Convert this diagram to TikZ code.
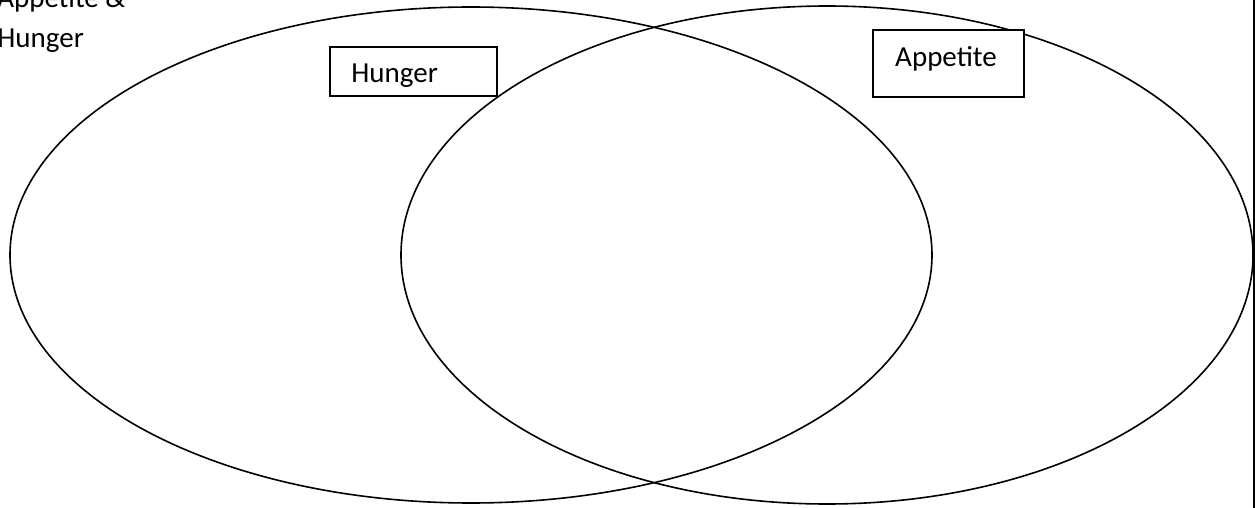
\documentclass[tikz,border=0pt]{standalone}
\usepackage{fontspec}
\setmainfont{Carlito}
\usepackage{tikz}
\usetikzlibrary{positioning}
\tikzset{
  venn/.style={draw=black, line width=0.8pt},
  labelbox/.style={rectangle, draw=black, line width=0.8pt, fill=white,
                   inner sep=0pt},
  lbl/.style={font=\fontsize{14.5}{20}\selectfont, inner sep=0pt},
}

\begin{document}
\begin{tikzpicture}[x=0.5pt, y=-0.5pt]
  \useasboundingbox (0,0) rectangle (1255,508);
  % the two sets
  \draw[venn] (471,255) ellipse [x radius=230.5pt, y radius=124pt];
  \draw[venn] (827,255) ellipse [x radius=213pt, y radius=124.5pt];
  \draw[venn] (1254,0) -- (1254,508);
  % title at the top left
  \node[lbl, align=left, anchor=base west] (title) at (-3,48) {Appetite \&\\Hunger};
  % set labels
  \node[labelbox, minimum width=83.5pt, minimum height=24.5pt] (hungerbox) at (413.5,71.5) {};
  \begin{scope}
    \clip (hungerbox.north west) rectangle ([yshift=5.25pt]hungerbox.south east);
    \node[lbl, anchor=base west] (hunger) at (351,83) {Hunger};
  \end{scope}
  \node[labelbox, minimum width=75.5pt, minimum height=33.5pt] (appetitebox) at (948.5,63.5) {};
  \node[lbl, anchor=base] (appetite) at (946,67) {Appetite};
\end{tikzpicture}
\end{document}
